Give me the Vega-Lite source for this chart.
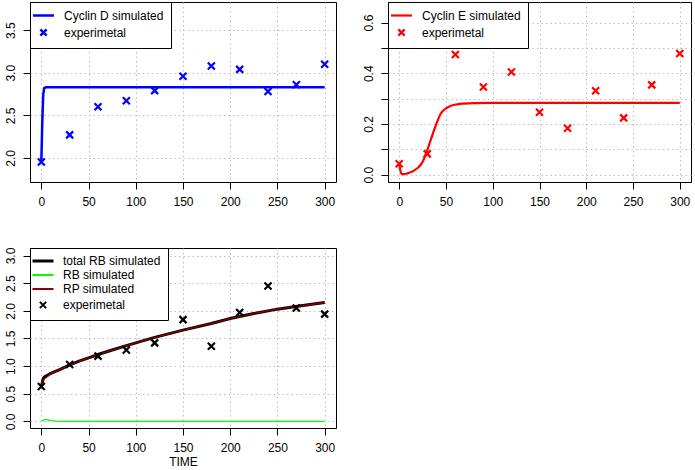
{
  "$schema": "https://vega.github.io/schema/vega-lite/v6.json",
  "background": "white",
  "padding": {"left": 3, "top": 1, "right": 0, "bottom": 0},
  "config": {
    "font": "Liberation Sans",
    "view": {"stroke": "black", "strokeWidth": 1},
    "axis": {
      "grid": true, "gridColor": "#bdbdbd", "gridDash": [1.5, 3], "gridWidth": 1,
      "domain": false, "tickColor": "black", "tickSize": 7, "tickWidth": 1,
      "labelFont": "Liberation Sans", "labelFontSize": 12, "labelColor": "black",
      "titleFont": "Liberation Sans", "titleFontSize": 12, "titleFontWeight": "normal", "titleColor": "black"
    },
    "axisX": {"labelPadding": 7, "titlePadding": 3},
    "axisY": {"labelAngle": -90, "labelAlign": "center", "labelBaseline": "bottom", "labelPadding": 6},
    "legend": {
      "title": null, "orient": "top-left", "offset": 0, "padding": 7,
      "strokeColor": "black", "fillColor": "white", "cornerRadius": 0,
      "labelFont": "Liberation Sans", "labelFontSize": 12, "labelColor": "black",
      "symbolSize": 110, "symbolStrokeWidth": 2, "labelOffset": 14, "rowPadding": 2
    }
  },
  "datasets": {
    "p1_sim": [
      {"t": 0, "v": 1.95, "s": "Cyclin D simulated"},
      {"t": 1, "v": 2.42, "s": "Cyclin D simulated"},
      {"t": 2, "v": 2.74, "s": "Cyclin D simulated"},
      {"t": 3, "v": 2.82, "s": "Cyclin D simulated"},
      {"t": 5, "v": 2.83, "s": "Cyclin D simulated"},
      {"t": 10, "v": 2.83, "s": "Cyclin D simulated"},
      {"t": 50, "v": 2.83, "s": "Cyclin D simulated"},
      {"t": 100, "v": 2.83, "s": "Cyclin D simulated"},
      {"t": 150, "v": 2.83, "s": "Cyclin D simulated"},
      {"t": 200, "v": 2.83, "s": "Cyclin D simulated"},
      {"t": 250, "v": 2.83, "s": "Cyclin D simulated"},
      {"t": 300, "v": 2.83, "s": "Cyclin D simulated"}
    ],
    "p1_exp": [
      {"t": 0, "v": 1.95, "s": "experimetal"},
      {"t": 30, "v": 2.27, "s": "experimetal"},
      {"t": 60, "v": 2.60, "s": "experimetal"},
      {"t": 90, "v": 2.67, "s": "experimetal"},
      {"t": 120, "v": 2.79, "s": "experimetal"},
      {"t": 150, "v": 2.96, "s": "experimetal"},
      {"t": 180, "v": 3.08, "s": "experimetal"},
      {"t": 210, "v": 3.04, "s": "experimetal"},
      {"t": 240, "v": 2.78, "s": "experimetal"},
      {"t": 270, "v": 2.86, "s": "experimetal"},
      {"t": 300, "v": 3.10, "s": "experimetal"}
    ],
    "p2_sim": [
      {"t": 0, "v": 0.043, "s": "Cyclin E simulated"},
      {"t": 1, "v": 0.02, "s": "Cyclin E simulated"},
      {"t": 2, "v": 0.006, "s": "Cyclin E simulated"},
      {"t": 3, "v": 0.002, "s": "Cyclin E simulated"},
      {"t": 5, "v": 0.002, "s": "Cyclin E simulated"},
      {"t": 8, "v": 0.004, "s": "Cyclin E simulated"},
      {"t": 12, "v": 0.009, "s": "Cyclin E simulated"},
      {"t": 16, "v": 0.017, "s": "Cyclin E simulated"},
      {"t": 20, "v": 0.027, "s": "Cyclin E simulated"},
      {"t": 23, "v": 0.039, "s": "Cyclin E simulated"},
      {"t": 26, "v": 0.058, "s": "Cyclin E simulated"},
      {"t": 28, "v": 0.077, "s": "Cyclin E simulated"},
      {"t": 31, "v": 0.108, "s": "Cyclin E simulated"},
      {"t": 33.5, "v": 0.135, "s": "Cyclin E simulated"},
      {"t": 36, "v": 0.162, "s": "Cyclin E simulated"},
      {"t": 39, "v": 0.193, "s": "Cyclin E simulated"},
      {"t": 42, "v": 0.222, "s": "Cyclin E simulated"},
      {"t": 44, "v": 0.238, "s": "Cyclin E simulated"},
      {"t": 47, "v": 0.252, "s": "Cyclin E simulated"},
      {"t": 50, "v": 0.261, "s": "Cyclin E simulated"},
      {"t": 56, "v": 0.273, "s": "Cyclin E simulated"},
      {"t": 65, "v": 0.279, "s": "Cyclin E simulated"},
      {"t": 79, "v": 0.282, "s": "Cyclin E simulated"},
      {"t": 100, "v": 0.283, "s": "Cyclin E simulated"},
      {"t": 150, "v": 0.283, "s": "Cyclin E simulated"},
      {"t": 200, "v": 0.283, "s": "Cyclin E simulated"},
      {"t": 250, "v": 0.283, "s": "Cyclin E simulated"},
      {"t": 300, "v": 0.283, "s": "Cyclin E simulated"}
    ],
    "p2_exp": [
      {"t": 0, "v": 0.043, "s": "experimetal"},
      {"t": 30, "v": 0.082, "s": "experimetal"},
      {"t": 60, "v": 0.474, "s": "experimetal"},
      {"t": 90, "v": 0.346, "s": "experimetal"},
      {"t": 120, "v": 0.405, "s": "experimetal"},
      {"t": 150, "v": 0.246, "s": "experimetal"},
      {"t": 180, "v": 0.183, "s": "experimetal"},
      {"t": 210, "v": 0.331, "s": "experimetal"},
      {"t": 240, "v": 0.224, "s": "experimetal"},
      {"t": 270, "v": 0.354, "s": "experimetal"},
      {"t": 300, "v": 0.478, "s": "experimetal"}
    ],
    "p3_total": [
      {"t": 0, "v": 0.62, "s": "total RB simulated"},
      {"t": 1, "v": 0.70, "s": "total RB simulated"},
      {"t": 2, "v": 0.77, "s": "total RB simulated"},
      {"t": 3, "v": 0.80, "s": "total RB simulated"},
      {"t": 5, "v": 0.82, "s": "total RB simulated"},
      {"t": 10, "v": 0.87, "s": "total RB simulated"},
      {"t": 20, "v": 0.94, "s": "total RB simulated"},
      {"t": 30, "v": 1.02, "s": "total RB simulated"},
      {"t": 40, "v": 1.09, "s": "total RB simulated"},
      {"t": 50, "v": 1.15, "s": "total RB simulated"},
      {"t": 60, "v": 1.21, "s": "total RB simulated"},
      {"t": 75, "v": 1.29, "s": "total RB simulated"},
      {"t": 90, "v": 1.37, "s": "total RB simulated"},
      {"t": 100, "v": 1.42, "s": "total RB simulated"},
      {"t": 120, "v": 1.52, "s": "total RB simulated"},
      {"t": 150, "v": 1.65, "s": "total RB simulated"},
      {"t": 180, "v": 1.77, "s": "total RB simulated"},
      {"t": 200, "v": 1.86, "s": "total RB simulated"},
      {"t": 225, "v": 1.95, "s": "total RB simulated"},
      {"t": 250, "v": 2.03, "s": "total RB simulated"},
      {"t": 275, "v": 2.09, "s": "total RB simulated"},
      {"t": 300, "v": 2.15, "s": "total RB simulated"}
    ],
    "p3_rb": [
      {"t": 0, "v": 0.0, "s": "RB simulated"},
      {"t": 2, "v": 0.02, "s": "RB simulated"},
      {"t": 4, "v": 0.035, "s": "RB simulated"},
      {"t": 7, "v": 0.025, "s": "RB simulated"},
      {"t": 11, "v": 0.012, "s": "RB simulated"},
      {"t": 16, "v": 0.005, "s": "RB simulated"},
      {"t": 20, "v": 0.001, "s": "RB simulated"},
      {"t": 50, "v": 0.0, "s": "RB simulated"},
      {"t": 100, "v": 0.0, "s": "RB simulated"},
      {"t": 200, "v": 0.0, "s": "RB simulated"},
      {"t": 300, "v": 0.0, "s": "RB simulated"}
    ],
    "p3_rp": [
      {"t": 0, "v": 0.62, "s": "RP simulated"},
      {"t": 1, "v": 0.69, "s": "RP simulated"},
      {"t": 2, "v": 0.75, "s": "RP simulated"},
      {"t": 3, "v": 0.77, "s": "RP simulated"},
      {"t": 5, "v": 0.79, "s": "RP simulated"},
      {"t": 10, "v": 0.86, "s": "RP simulated"},
      {"t": 20, "v": 0.94, "s": "RP simulated"},
      {"t": 30, "v": 1.02, "s": "RP simulated"},
      {"t": 40, "v": 1.09, "s": "RP simulated"},
      {"t": 50, "v": 1.15, "s": "RP simulated"},
      {"t": 60, "v": 1.21, "s": "RP simulated"},
      {"t": 75, "v": 1.29, "s": "RP simulated"},
      {"t": 90, "v": 1.37, "s": "RP simulated"},
      {"t": 100, "v": 1.42, "s": "RP simulated"},
      {"t": 120, "v": 1.52, "s": "RP simulated"},
      {"t": 150, "v": 1.65, "s": "RP simulated"},
      {"t": 180, "v": 1.77, "s": "RP simulated"},
      {"t": 200, "v": 1.86, "s": "RP simulated"},
      {"t": 225, "v": 1.95, "s": "RP simulated"},
      {"t": 250, "v": 2.03, "s": "RP simulated"},
      {"t": 275, "v": 2.09, "s": "RP simulated"},
      {"t": 300, "v": 2.15, "s": "RP simulated"}
    ],
    "p3_exp": [
      {"t": 0, "v": 0.63, "s": "experimetal"},
      {"t": 30, "v": 1.03, "s": "experimetal"},
      {"t": 60, "v": 1.18, "s": "experimetal"},
      {"t": 90, "v": 1.29, "s": "experimetal"},
      {"t": 120, "v": 1.42, "s": "experimetal"},
      {"t": 150, "v": 1.84, "s": "experimetal"},
      {"t": 180, "v": 1.36, "s": "experimetal"},
      {"t": 210, "v": 1.97, "s": "experimetal"},
      {"t": 240, "v": 2.45, "s": "experimetal"},
      {"t": 270, "v": 2.05, "s": "experimetal"},
      {"t": 300, "v": 1.94, "s": "experimetal"}
    ]
  },
  "columns": 2,
  "spacing": {"row": 66, "column": 52},
  "bounds": "flush",
  "resolve": {"scale": {"color": "independent"}, "legend": {"color": "independent"}},
  "concat": [
    {
      "width": 306,
      "height": 180,
      "encoding": {
        "x": {"field": "t", "type": "quantitative", "title": null,
              "scale": {"domain": [-12, 312], "nice": false, "zero": false},
              "axis": {"values": [0, 50, 100, 150, 200, 250, 300]}},
        "y": {"field": "v", "type": "quantitative", "title": null,
              "scale": {"domain": [1.716, 3.832], "nice": false, "zero": false},
              "axis": {"values": [2, 2.5, 3, 3.5], "format": ".1f"}},
        "color": {"field": "s", "type": "nominal",
                  "scale": {"domain": ["Cyclin D simulated", "experimetal"], "range": ["#0000FF", "#0000FF"]},
                  "legend": {"encode": {"symbols": {"update": {"shape": {"signal": "datum.value === 'experimetal' ? 'M-0.6,-0.6L0.6,0.6M-0.6,0.6L0.6,-0.6' : 'M-2,0L2,0'"}, "strokeWidth": {"value": 2.5}}}}}}
      },
      "layer": [
        {"data": {"name": "p1_sim"}, "mark": {"type": "line", "strokeWidth": 2.5}},
        {"data": {"name": "p1_exp"}, "mark": {"type": "point", "shape": "M-1,-1L1,1M-1,1L1,-1", "size": 49, "strokeWidth": 2.2, "filled": false, "opacity": 1}}
      ]
    },
    {
      "width": 303,
      "height": 180,
      "encoding": {
        "x": {"field": "t", "type": "quantitative", "title": null,
              "scale": {"domain": [-12, 312], "nice": false, "zero": false},
              "axis": {"values": [0, 50, 100, 150, 200, 250, 300]}},
        "y": {"field": "v", "type": "quantitative", "title": null,
              "scale": {"domain": [-0.029, 0.681], "nice": false, "zero": false},
              "axis": {"values": [0, 0.1, 0.2, 0.3, 0.4, 0.5, 0.6],
                       "labelExpr": "round(datum.value * 10) % 2 === 0 ? format(datum.value, '.1f') : ''"}},
        "color": {"field": "s", "type": "nominal",
                  "scale": {"domain": ["Cyclin E simulated", "experimetal"], "range": ["#FF0000", "#FF0000"]},
                  "legend": {"encode": {"symbols": {"update": {"shape": {"signal": "datum.value === 'experimetal' ? 'M-0.6,-0.6L0.6,0.6M-0.6,0.6L0.6,-0.6' : 'M-2,0L2,0'"}, "strokeWidth": {"value": 2.2}}}}}}
      },
      "layer": [
        {"data": {"name": "p2_sim"}, "mark": {"type": "line", "strokeWidth": 2.2, "interpolate": "monotone"}},
        {"data": {"name": "p2_exp"}, "mark": {"type": "point", "shape": "M-1,-1L1,1M-1,1L1,-1", "size": 49, "strokeWidth": 2.2, "filled": false, "opacity": 1}}
      ]
    },
    {
      "width": 306,
      "height": 180,
      "encoding": {
        "x": {"field": "t", "type": "quantitative", "title": "TIME",
              "scale": {"domain": [-12, 312], "nice": false, "zero": false},
              "axis": {"values": [0, 50, 100, 150, 200, 250, 300]}},
        "y": {"field": "v", "type": "quantitative", "title": null,
              "scale": {"domain": [-0.12, 3.136], "nice": false, "zero": false},
              "axis": {"values": [0, 0.5, 1, 1.5, 2, 2.5, 3], "format": ".1f"}},
        "color": {"field": "s", "type": "nominal",
                  "scale": {"domain": ["total RB simulated", "RB simulated", "RP simulated", "experimetal"],
                            "range": ["#000000", "#00FF00", "#8B0000", "#000000"]},
                  "legend": {"encode": {"symbols": {"update": {
                    "shape": {"signal": "datum.value === 'experimetal' ? 'M-0.6,-0.6L0.6,0.6M-0.6,0.6L0.6,-0.6' : 'M-2,0L2,0'"},
                    "strokeWidth": {"signal": "datum.value === 'total RB simulated' ? 3 : 2"}}}}}}
      },
      "layer": [
        {"data": {"name": "p3_total"}, "mark": {"type": "line", "strokeWidth": 3}},
        {"data": {"name": "p3_rb"}, "mark": {"type": "line", "strokeWidth": 1.3}},
        {"data": {"name": "p3_rp"}, "mark": {"type": "line", "strokeWidth": 1.3}},
        {"data": {"name": "p3_exp"}, "mark": {"type": "point", "shape": "M-1,-1L1,1M-1,1L1,-1", "size": 49, "strokeWidth": 2.2, "filled": false, "opacity": 1}}
      ]
    }
  ]
}
